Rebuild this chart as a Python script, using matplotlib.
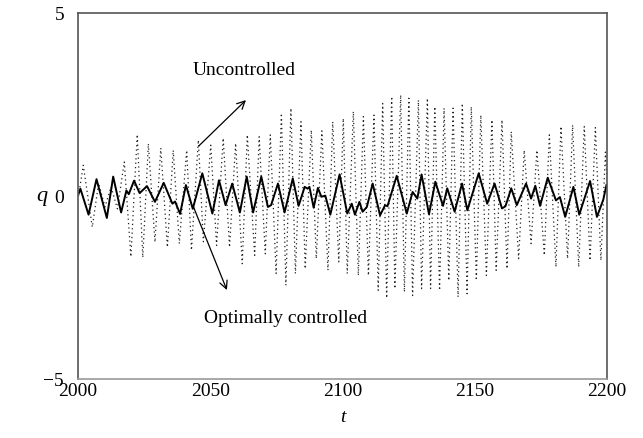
import matplotlib
matplotlib.use("Agg")
import matplotlib.pyplot as plt

# uncontrolled response: successive peaks / troughs
t_unc = [2000.2, 2002.0, 2005.4, 2007.8, 2010.2, 2012.5, 2014.9, 2017.5, 2020.0, 2022.4,
         2024.5, 2026.6, 2029.1, 2031.3, 2033.8, 2036.0, 2038.3, 2041.1, 2042.9, 2045.5,
         2047.4, 2050.2, 2052.4, 2054.9, 2057.3, 2059.6, 2062.1, 2064.0, 2066.8, 2068.5,
         2070.8, 2072.7, 2074.9, 2076.9, 2078.6, 2080.5, 2082.2, 2084.3, 2085.9, 2088.2,
         2090.1, 2092.2, 2094.5, 2096.3, 2098.6, 2100.3, 2101.8, 2104.1, 2106.0, 2107.9,
         2109.8, 2111.9, 2113.5, 2115.2, 2116.7, 2118.6, 2119.8, 2122.0, 2123.4, 2125.1,
         2126.5, 2128.7, 2129.9, 2132.1, 2133.3, 2134.9, 2136.7, 2138.4, 2140.2, 2141.8,
         2143.7, 2145.3, 2147.1, 2148.7, 2150.6, 2152.3, 2154.4, 2156.5, 2158.1, 2160.3,
         2162.2, 2163.8, 2166.6, 2168.7, 2171.3, 2173.5, 2176.3, 2178.2, 2180.7, 2182.6,
         2185.1, 2187.0, 2189.3, 2191.4, 2193.6, 2195.6, 2197.7, 2199.4, 2200.0]
q_unc = [0.0, 0.84, -0.85, 0.35, -0.30, 0.25, -0.35, 0.93, -1.66, 1.68,
         -1.68, 1.43, -1.26, 1.31, -1.40, 1.25, -1.30, 1.25, -1.48, 1.53,
         -1.25, 1.39, -1.35, 1.58, -1.40, 1.44, -1.85, 1.67, -1.62, 1.62,
         -1.58, 1.67, -2.12, 2.26, -2.44, 2.40, -2.12, 2.03, -1.99, 1.80,
         -1.71, 1.78, -2.03, 2.03, -1.80, 2.12, -2.12, 2.31, -2.17, 2.17,
         -2.17, 2.21, -2.58, 2.53, -2.79, 2.72, -2.53, 2.76, -2.62, 2.67,
         -2.72, 2.62, -2.53, 2.67, -2.53, 2.44, -2.58, 2.40, -2.31, 2.40,
         -2.76, 2.53, -2.67, 2.44, -2.31, 2.21, -2.17, 2.08, -2.03, 2.08,
         -1.99, 1.76, -1.71, 1.25, -1.30, 1.25, -1.62, 1.67, -1.94, 1.90,
         -1.71, 1.94, -1.94, 1.90, -1.76, 1.87, -1.76, 1.20, 0.50]

# optimally controlled response
t_opt = [2000.3, 2000.9, 2004.0, 2007.0, 2010.9, 2013.3, 2016.3, 2018.3, 2019.2, 2021.2,
         2023.3, 2026.1, 2029.1, 2032.4, 2035.7, 2036.7, 2038.6, 2040.8, 2043.4, 2047.0,
         2050.8, 2053.3, 2055.8, 2058.3, 2061.2, 2063.8, 2066.2, 2069.3, 2071.8, 2073.0,
         2075.6, 2078.1, 2081.2, 2083.4, 2085.7, 2086.8, 2087.5, 2089.1, 2090.7, 2092.0,
         2093.5, 2095.4, 2098.9, 2101.8, 2103.5, 2104.7, 2106.4, 2107.6, 2109.2, 2111.4,
         2114.2, 2116.1, 2117.0, 2120.5, 2124.3, 2126.5, 2128.3, 2129.9, 2132.7, 2135.1,
         2138.0, 2139.6, 2142.4, 2145.2, 2147.2, 2151.5, 2154.7, 2157.5, 2160.3, 2161.6,
         2163.8, 2165.9, 2169.4, 2171.3, 2172.9, 2174.7, 2177.6, 2180.7, 2182.2, 2184.2,
         2187.3, 2189.5, 2193.6, 2196.2, 2198.6, 2199.8]
q_opt = [0.07, 0.20, -0.51, 0.46, -0.60, 0.53, -0.45, 0.15, 0.05, 0.42,
         0.08, 0.27, -0.16, 0.36, -0.21, -0.15, -0.49, 0.30, -0.35, 0.62,
         -0.48, 0.43, -0.25, 0.34, -0.45, 0.53, -0.45, 0.53, -0.30, -0.25,
         0.34, -0.45, 0.48, -0.27, 0.25, 0.20, 0.25, -0.32, 0.22, -0.02,
         0.01, -0.51, 0.59, -0.48, -0.21, -0.51, -0.16, -0.43, -0.30, 0.34,
         -0.53, -0.25, -0.28, 0.55, -0.48, 0.11, -0.07, 0.59, -0.50, 0.39,
         -0.27, 0.21, -0.43, 0.34, -0.39, 0.62, -0.21, 0.34, -0.34, -0.28,
         0.21, -0.25, 0.34, -0.07, 0.28, -0.27, 0.50, -0.12, -0.03, -0.57,
         0.25, -0.51, 0.41, -0.57, -0.10, 0.30]

xticks = [2000, 2050, 2100, 2150, 2200]
yticks = [-5, 0, 5]

serif = "Liberation Serif"
fs = 14

fig = plt.figure(figsize=(6.43, 4.38), dpi=100)
ax = fig.add_axes([0.1213, 0.1347, 0.8227, 0.8356])

ax.plot(t_unc, q_unc, color="#222222", lw=0.9, linestyle=(0, (1, 2.5)))
ax.plot(t_opt, q_opt, color="black", lw=1.4)

ax.set_xlim(2000, 2200)
ax.set_ylim(-5, 5)
ax.set_xticks(xticks)
ax.set_yticks(yticks)
ax.set_yticklabels(["\u22125", "0", "5"])
ax.tick_params(length=0, labelsize=fs)
ax.tick_params(axis="y", pad=10)
ax.tick_params(axis="x", pad=3)
for lab in ax.get_xticklabels() + ax.get_yticklabels():
    lab.set_family(serif)

for side in ["left", "top", "right"]:
    ax.spines[side].set_color("#555555")
    ax.spines[side].set_linewidth(1.2)
ax.spines["bottom"].set_color("#999999")
ax.spines["bottom"].set_linewidth(1.2)

ax.set_xlabel("t", family=serif, style="italic", fontsize=fs, labelpad=6)
ax.set_ylabel("q", family=serif, style="italic", fontsize=fs + 2,
              rotation=0, va="center", ha="center")
ax.yaxis.set_label_coords(-0.068, 0.5)

ax.annotate("", xy=(2063.5, 2.62), xytext=(2045.7, 1.37),
            arrowprops=dict(arrowstyle="->", color="black", lw=0.9,
                            shrinkA=0, shrinkB=0, mutation_scale=14))
ax.annotate("", xy=(2056.3, -2.57), xytext=(2043.5, -0.27),
            arrowprops=dict(arrowstyle="->", color="black", lw=0.9,
                            shrinkA=0, shrinkB=0, mutation_scale=14))
ax.text(2063.0, 3.3, "Uncontrolled", family=serif, fontsize=fs,
        ha="center", va="baseline")
ax.text(2078.3, -3.47, "Optimally controlled", family=serif, fontsize=fs,
        ha="center", va="baseline")

fig.savefig("out.png", dpi=100)
